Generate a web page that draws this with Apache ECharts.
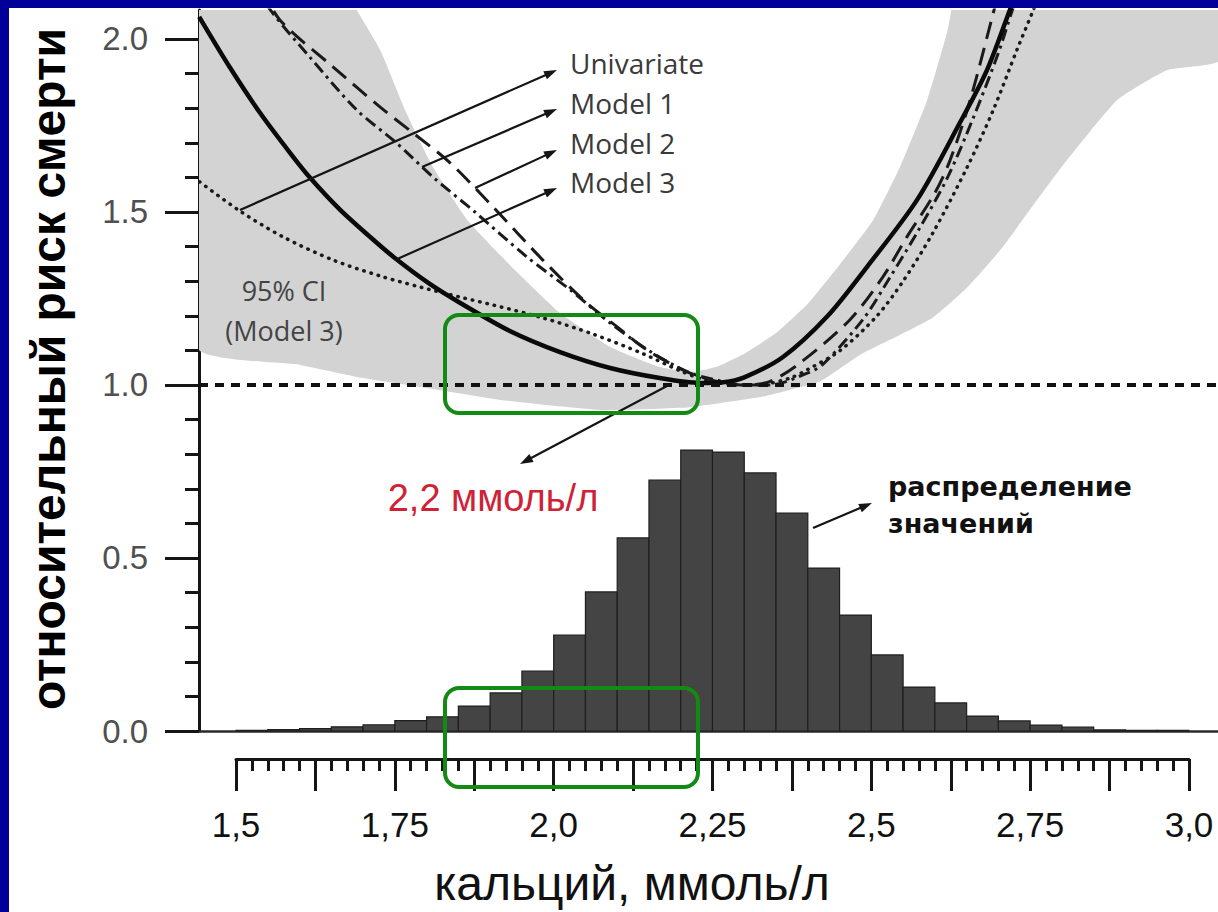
<!DOCTYPE html>
<html>
<head>
<meta charset="utf-8">
<script src="https://cdn.jsdelivr.net/npm/echarts@6/dist/echarts.min.js"></script>
<style>
  html, body { margin: 0; padding: 0; background: #fff; }
  #main { width: 1218px; height: 912px; }
</style>
</head>
<body>
<div id="main"></div>
<script>
// ---- data ----
// histogram of calcium values: left edge of each 0.05 bin and its height
var histStart = [1.50, 1.55, 1.60, 1.65, 1.70, 1.75, 1.80, 1.85, 1.90, 1.95,
                 2.00, 2.05, 2.10, 2.15, 2.20, 2.25, 2.30, 2.35, 2.40, 2.45,
                 2.50, 2.55, 2.60, 2.65, 2.70, 2.75, 2.80, 2.85, 2.90, 2.95];
var histHeight = [0.002, 0.004, 0.007, 0.012, 0.018, 0.030, 0.041, 0.072, 0.110, 0.173,
                  0.277, 0.402, 0.558, 0.725, 0.812, 0.806, 0.746, 0.630, 0.471, 0.335,
                  0.220, 0.127, 0.081, 0.043, 0.029, 0.017, 0.011, 0.003, 0.002, 0.002];
var BIN_W = 0.05;

// risk curves [calcium, relative risk]
var univariate = [[1.443,1.587],[1.506,1.503],[1.574,1.428],[1.653,1.361],[1.727,1.315],
  [1.790,1.283],[1.853,1.254],[1.905,1.231],[1.983,1.194],[2.062,1.147],[2.141,1.090],
  [2.199,1.041],[2.238,1.015],[2.29,1.0],[2.33,1.002],[2.372,1.020],[2.40,1.045],
  [2.451,1.100],[2.509,1.200],[2.550,1.300],[2.597,1.440],[2.651,1.630],[2.692,1.795],
  [2.729,1.968],[2.755,2.084],[2.775,2.180]];
var model1 = [[1.530,2.160],[1.554,2.084],[1.616,1.948],[1.690,1.795],[1.753,1.699],
  [1.810,1.601],[1.876,1.500],[1.958,1.370],[2.026,1.275],[2.089,1.179],[2.156,1.092],
  [2.215,1.035],[2.262,1.012],[2.30,1.0],[2.34,1.0],[2.40,1.035],[2.424,1.060],
  [2.487,1.190],[2.529,1.310],[2.575,1.450],[2.62,1.600],[2.66,1.770],[2.70,1.960],
  [2.722,2.084],[2.74,2.180]];
var model2 = [[1.540,2.150],[1.569,2.055],[1.653,1.919],[1.727,1.803],[1.779,1.728],
  [1.837,1.642],[1.905,1.514],[1.983,1.361],[2.052,1.237],[2.100,1.168],[2.147,1.101],
  [2.210,1.038],[2.254,1.012],[2.30,1.0],[2.34,1.010],[2.388,1.064],[2.466,1.188],
  [2.518,1.312],[2.556,1.428],[2.60,1.555],[2.624,1.650],[2.655,1.820],[2.687,2.040],
  [2.705,2.170]];
var model3 = [[1.442,2.064],[1.491,1.916],[1.538,1.786],[1.585,1.671],[1.617,1.598],
  [1.664,1.506],[1.711,1.428],[1.750,1.367],[1.805,1.292],[1.853,1.237],[1.931,1.156],
  [2.010,1.095],[2.089,1.049],[2.167,1.020],[2.230,1.006],[2.267,1.008],[2.30,1.022],
  [2.361,1.081],[2.430,1.197],[2.493,1.341],[2.572,1.535],[2.640,1.760],[2.682,1.910],
  [2.718,2.084],[2.745,2.220]];

// 95% CI of model 3: upper and lower edges
var ciUpper = [[1.440,2.30],[1.623,2.30],[1.690,2.084],[1.727,1.968],[1.766,1.795],
  [1.810,1.630],[1.864,1.477],[1.931,1.347],[2.010,1.208],[2.089,1.110],[2.167,1.052],
  [2.219,1.038],[2.26,1.055],[2.30,1.090],[2.35,1.150],[2.40,1.235],[2.451,1.350],
  [2.503,1.477],[2.545,1.630],[2.588,1.824],[2.619,2.017],[2.659,2.30],[3.05,2.30]];
var ciLower = [[1.440,1.107],[1.601,1.058],[1.700,1.020],[1.790,0.994],[1.916,0.957],
  [2.073,0.928],[2.215,0.936],[2.325,0.965],[2.37,0.985],[2.419,1.010],[2.482,1.087],
  [2.540,1.140],[2.597,1.195],[2.650,1.280],[2.703,1.390],[2.755,1.520],[2.808,1.650],
  [2.887,1.824],[2.965,1.910],[3.05,1.940]];

var refLevel = 1.0;

// ticks and labels
var yTickValues = [0, 0.5, 1.0, 1.5, 2.0];
var yTickLabels = ['0.0', '0.5', '1.0', '1.5', '2.0'];
var yMinorTicks = [0.1,0.2,0.3,0.4,0.6,0.7,0.8,0.9,1.1,1.2,1.3,1.4,1.6,1.7,1.8,1.9];
var xLabelValues = [1.5, 1.75, 2.0, 2.25, 2.5, 2.75, 3.0];
var xLabels = ['1,5', '1,75', '2,0', '2,25', '2,5', '2,75', '3,0'];

// ---- chart ----
var X_MIN = 1.44176, X_MAX = 3.04565;   // plot area 199..1218 px
var Y_MAX = 2.0838;                      // plot area 10..731 px
var INK = '#151515';

function pickLabel(values, labels) {
    return function (v) {
        for (var i = 0; i < values.length; i++) {
            if (Math.abs(values[i] - v) < 1e-6) return labels[i];
        }
        return '';
    };
}

function arrow(x1, y1, x2, y2) {
    var dx = x2 - x1, dy = y2 - y1;
    var len = Math.sqrt(dx * dx + dy * dy);
    var ux = dx / len, uy = dy / len;
    var L = 13, W = 4.5;
    var bx = x2 - ux * L, by = y2 - uy * L;
    return [{
        type: 'line', z: 100,
        shape: { x1: x1, y1: y1, x2: bx + ux * 2, y2: by + uy * 2 },
        style: { stroke: INK, lineWidth: 2.2 }
    }, {
        type: 'polygon', z: 100,
        shape: { points: [[x2, y2], [bx - uy * W, by + ux * W], [bx + uy * W, by - ux * W]] },
        style: { fill: INK }
    }];
}

function label(text, x, y, font, color, align) {
    return {
        type: 'text', z: 100, x: x, y: y,
        style: { text: text, font: font, fill: color, align: align || 'left', verticalAlign: 'middle' }
    };
}

var graphics = [
    { type: 'rect', z: 200, shape: { x: 0, y: 0, width: 1218, height: 8 }, style: { fill: '#01019a' } },
    { type: 'rect', z: 200, shape: { x: 0, y: 0, width: 9, height: 912 }, style: { fill: '#01019a' } },
    {
        type: 'text', z: 100, x: 48, y: 369, rotation: Math.PI / 2,
        style: { text: 'относительный риск смерти', font: 'bold 48px "Liberation Sans", Arial, sans-serif',
                 fill: '#000', align: 'center', verticalAlign: 'middle' }
    },
    label('кальций, ммоль/л', 632, 883, '48px "Liberation Sans", Arial, sans-serif', '#111', 'center'),
    label('Univariate', 570, 63, '28px "Open Sans", sans-serif', '#3a3a3a'),
    label('Model 1', 570, 103, '28px "Open Sans", sans-serif', '#3a3a3a'),
    label('Model 2', 570, 143, '28px "Open Sans", sans-serif', '#3a3a3a'),
    label('Model 3', 570, 182, '28px "Open Sans", sans-serif', '#3a3a3a'),
    label('95% CI', 284, 290, '27px "Open Sans", sans-serif', '#444', 'center'),
    label('(Model 3)', 284, 330, '27px "Open Sans", sans-serif', '#444', 'center'),
    label('2,2 ммоль/л', 493, 498, '38px "Liberation Sans", Arial, sans-serif', '#cf2237', 'center'),
    label('распределение', 888, 486, 'bold 27px "DejaVu Sans", sans-serif', '#111'),
    label('значений', 888, 523, 'bold 27px "DejaVu Sans", sans-serif', '#111'),
    { type: 'rect', z: 150, shape: { x: 445, y: 315, width: 253, height: 98, r: 14 },
      style: { fill: 'none', stroke: '#138a13', lineWidth: 4 } },
    { type: 'rect', z: 150, shape: { x: 445, y: 688, width: 253, height: 99, r: 14 },
      style: { fill: 'none', stroke: '#138a13', lineWidth: 4 } }
]
.concat(arrow(240, 210, 557, 70))
.concat(arrow(422, 167, 557, 109))
.concat(arrow(475, 188, 557, 150))
.concat(arrow(395, 260, 557, 188))
.concat(arrow(667, 386, 520, 464))
.concat(arrow(813, 528, 872, 503));

var chart = echarts.init(document.getElementById('main'), null, { renderer: 'svg' });

chart.setOption({
    animation: false,
    backgroundColor: '#fff',
    grid: [
        { left: 199, right: 0, top: 10, bottom: 181, containLabel: false, outerBoundsMode: 'none' },
        { left: 236, width: 953, top: 758, height: 1, containLabel: false, outerBoundsMode: 'none' }
    ],
    xAxis: [{
        gridIndex: 0, type: 'value', min: X_MIN, max: X_MAX, position: 'bottom',
        axisLine: { show: true, onZero: false, lineStyle: { color: '#2a2a2a', width: 2.5 } },
        axisTick: { show: false }, axisLabel: { show: false }, splitLine: { show: false }
    }, {
        gridIndex: 1, type: 'value', min: 1.5, max: 3.0, interval: 0.125, position: 'bottom',
        axisLine: { show: true, onZero: false, lineStyle: { color: INK, width: 3 } },
        axisTick: { show: true, length: 32, lineStyle: { color: INK, width: 3 } },
        minorTick: { show: true, splitNumber: 5, length: 12, lineStyle: { color: INK, width: 3 } },
        axisLabel: {
            customValues: xLabelValues, formatter: pickLabel(xLabelValues, xLabels),
            margin: 48, fontSize: 35, color: '#111', fontFamily: '"Liberation Sans", Arial, sans-serif'
        },
        splitLine: { show: false }, minorSplitLine: { show: false }
    }],
    yAxis: [{
        gridIndex: 0, type: 'value', min: 0, max: Y_MAX, position: 'left',
        axisLine: { show: true, onZero: false, lineStyle: { color: INK, width: 3 } },
        axisTick: { show: true, customValues: yTickValues, length: 34, lineStyle: { color: INK, width: 3 } },
        axisLabel: {
            customValues: yTickValues, formatter: pickLabel(yTickValues, yTickLabels),
            margin: 51, fontSize: 33, color: '#505050', fontFamily: '"Liberation Sans", Arial, sans-serif'
        },
        splitLine: { show: false }
    }, {
        gridIndex: 0, type: 'value', min: 0, max: Y_MAX, position: 'left',
        axisLine: { show: false },
        axisTick: { show: true, customValues: yMinorTicks, length: 14, lineStyle: { color: INK, width: 3 } },
        axisLabel: { show: false }, splitLine: { show: false }
    }, {
        gridIndex: 1, type: 'value', min: 0, max: 1, show: false
    }],
    series: [{
        name: '95% CI',
        type: 'custom', xAxisIndex: 0, yAxisIndex: 0, clip: true, z: 1,
        data: [[ciLower[0][0], ciLower[0][1]]],
        renderItem: function (params, api) {
            var pts = ciUpper.map(function (p) { return api.coord(p); });
            for (var i = ciLower.length - 1; i >= 0; i--) pts.push(api.coord(ciLower[i]));
            return { type: 'polygon', shape: { points: pts, smooth: 0.15 }, style: { fill: '#d3d3d3' } };
        }
    }, {
        name: 'распределение',
        type: 'custom', xAxisIndex: 0, yAxisIndex: 0, z: 2,
        data: histStart.map(function (x, i) { return [x, histHeight[i]]; }),
        renderItem: function (params, api) {
            var x0 = api.value(0), h = api.value(1);
            var p0 = api.coord([x0, h]);
            var p1 = api.coord([x0 + BIN_W, 0]);
            return {
                type: 'rect',
                shape: { x: p0[0], y: p0[1], width: p1[0] - p0[0], height: p1[1] - p0[1] },
                style: { fill: '#444444', stroke: '#1f1f1f', lineWidth: 1.2 }
            };
        }
    }, {
        name: 'Univariate', type: 'line', z: 3, data: univariate,
        symbol: 'none', smooth: 0.3,
        lineStyle: { color: '#1a1a1a', width: 3.5, type: [0.5, 7], cap: 'round' }
    }, {
        name: 'Model 1', type: 'line', z: 3, data: model1,
        symbol: 'none', smooth: 0.3,
        lineStyle: { color: '#1a1a1a', width: 3, type: [12, 5, 3, 5] }
    }, {
        name: 'Model 2', type: 'line', z: 3, data: model2,
        symbol: 'none', smooth: 0.3,
        lineStyle: { color: '#1a1a1a', width: 3, type: [18, 9] }
    }, {
        name: 'Model 3', type: 'line', z: 4, data: model3,
        symbol: 'none', smooth: 0.3,
        lineStyle: { color: '#0a0a0a', width: 4.5 },
        markLine: {
            silent: true, symbol: 'none', label: { show: false },
            lineStyle: { color: '#111', width: 4, type: [9, 7] },
            data: [{ yAxis: refLevel }]
        }
    }],
    graphic: graphics
});
</script>
</body>
</html>
